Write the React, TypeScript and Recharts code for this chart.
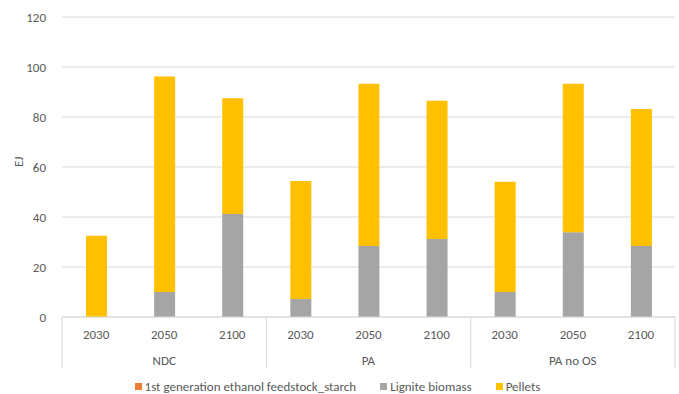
import React from 'react';
import { BarChart, Bar, XAxis, YAxis, CartesianGrid, Legend } from 'recharts';

// Scenario groups and the years shown inside each group
const groups = ['NDC', 'PA', 'PA no OS'];
const years = ['2030', '2050', '2100'];

// Values in EJ, one entry per (group, year), in group order
const ethanolStarch = [0, 0, 0, 0, 0, 0, 0, 0, 0];
const ligniteBiomass = [0, 10, 41.2, 7.2, 28.4, 31.2, 10, 33.9, 28.4];
const pellets = [32.5, 86.2, 46.3, 47.2, 64.9, 55.3, 44.1, 59.4, 54.8];

const yTicks = [0, 20, 40, 60, 80, 100, 120];

const data = groups.flatMap((g, gi) =>
  years.map((y, yi) => {
    const i = gi * years.length + yi;
    return {
      year: y,
      group: g,
      ethanol: ethanolStarch[i],
      lignite: ligniteBiomass[i],
      pellets: pellets[i],
    };
  })
);

const TEXT = '#595959';
const LINE = '#D9D9D9';
const FONT = 'Carlito, Calibri, "Open Sans", sans-serif';
const FS = 13;

const series = [
  { key: 'ethanol', name: '1st generation ethanol feedstock_starch', color: '#ED7D31' },
  { key: 'lignite', name: 'Lignite biomass', color: '#A5A5A5' },
  { key: 'pellets', name: 'Pellets', color: '#FFC000' },
];

// Two-level category tick: year on the first row, scenario name on the second,
// with vertical separators at group boundaries.
const GroupedTick = (props: any) => {
  const { x, y, payload } = props;
  const index: number = payload.index;
  const half: number = payload.offset || 34;
  const pos = index % years.length;
  const gi = Math.floor(index / years.length);
  const sepHeight = 51;
  return (
    <g>
      <text x={x} y={y + 17} textAnchor="middle" dominantBaseline="central" fill={TEXT} fontSize={FS} fontFamily={FONT}>
        {payload.value}
      </text>
      {pos === 1 && (
        <text x={x} y={y + 43} textAnchor="middle" dominantBaseline="central" fill={TEXT} fontSize={FS} fontFamily={FONT}>
          {groups[gi]}
        </text>
      )}
      {pos === 0 && <line x1={x - half} x2={x - half} y1={y} y2={y + sepHeight} stroke={LINE} />}
      {index === data.length - 1 && <line x1={x + half} x2={x + half} y1={y} y2={y + sepHeight} stroke={LINE} />}
    </g>
  );
};

const LegendContent = () => (
  <div style={{ display: 'flex', justifyContent: 'center', alignItems: 'center', height: 16, fontFamily: FONT, fontSize: FS, color: TEXT }}>
    {series.map((s) => (
      <div key={s.key} style={{ display: 'flex', alignItems: 'center', margin: '0 12px' }}>
        <span style={{ display: 'inline-block', width: 7, height: 7, background: s.color, marginRight: 3 }} />
        <span>{s.name}</span>
      </div>
    ))}
  </div>
);

export default function App() {
  return (
    <div style={{ position: 'fixed', left: 0, top: 0, background: '#fff' }}>
      <BarChart
        width={679}
        height={394}
        data={data}
        margin={{ top: 17, right: 4, bottom: 0, left: 0 }}
        barSize={21}
      >
        <CartesianGrid vertical={false} stroke={LINE} />
        <XAxis
          dataKey="year"
          tick={<GroupedTick />}
          tickLine={false}
          tickSize={0}
          tickMargin={0}
          height={61}
          interval={0}
          axisLine={{ stroke: LINE }}
        />
        <YAxis
          domain={[0, 120]}
          ticks={yTicks}
          width={62}
          axisLine={false}
          tickLine={false}
          tickMargin={10}
          tick={{ fill: TEXT, fontSize: FS, fontFamily: FONT }}
          label={{ value: 'EJ', angle: -90, position: 'insideLeft', offset: 18, fill: TEXT, fontSize: FS, fontFamily: FONT }}
        />
        <Legend verticalAlign="bottom" content={<LegendContent />} wrapperStyle={{ height: 16 }} />
        {series.map((s) => (
          <Bar key={s.key} dataKey={s.key} name={s.name} stackId="a" fill={s.color} isAnimationActive={false} />
        ))}
      </BarChart>
    </div>
  );
}
